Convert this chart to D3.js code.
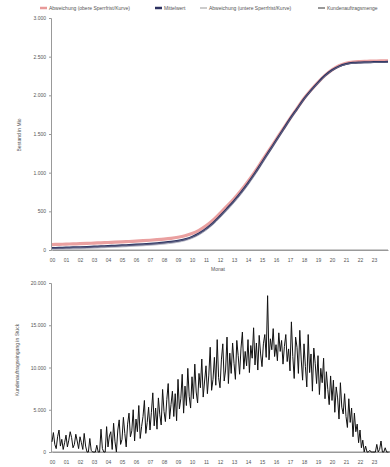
<!DOCTYPE html>
<html>
<head>
<meta charset="utf-8">
<script src="https://cdn.jsdelivr.net/npm/d3@7"></script>
<style>
  body { margin: 0; background: #fff; }
  svg { display: block; font-family: "Liberation Sans", Arial, sans-serif; }
  .axis path, .axis line { stroke: #999; }
  .axis text { fill: #555; font-size: 5px; }
</style>
</head>
<body>
<div id="chart"></div>
<script>
// x tick labels (years)
const tickLabels = ["00","01","02","03","04","05","06","07","08","09","10","11","12","13","14","15","16","17","18","19","20","21","22","23"];

// top chart: half-year steps 0..24
const steps = d3.range(0, 24.5, 0.5);
const mittelwert = [25,28,31,34,37,40,44,48,52,56,60,65,70,75,81,88,96,106,120,140,170,215,275,350,440,535,635,745,865,995,1135,1275,1415,1555,1695,1825,1955,2065,2165,2255,2325,2375,2405,2420,2425,2427,2430,2432,2433];
const obereKurve = [70,73,76,79,82,85,89,93,97,101,105,110,115,120,126,133,141,151,165,184,212,255,313,386,474,566,663,770,887,1014,1151,1288,1425,1562,1700,1829,1958,2068,2168,2258,2330,2382,2414,2431,2437,2440,2443,2445,2446];
const untereKurve = [5,8,11,14,17,20,24,28,32,36,40,45,50,55,61,68,76,86,100,120,150,194,253,327,416,510,609,718,838,968,1108,1250,1392,1534,1676,1808,1940,2052,2154,2246,2318,2369,2400,2415,2420,2422,2425,2427,2428];
const kundenKurve = [20,23,26,29,32,35,39,43,47,51,55,60,65,70,76,83,91,101,115,135,165,210,270,345,435,530,630,740,860,990,1130,1270,1410,1550,1690,1820,1950,2060,2160,2250,2320,2370,2400,2415,2420,2422,2425,2427,2428];

// bottom chart: 10 values per year
const tagesWerte = [
  1200,2300,900,400,1800,2600,700,1500,300,1100,
  2000,600,1400,2400,1700,500,900,2100,1300,400,
  1800,1100,300,2200,700,0,0,1600,200,0,
  0,0,800,0,0,2700,400,0,0,3000,
  600,1900,2400,300,3400,1200,0,2600,3800,900,
  1500,4100,2200,600,3300,4600,1800,2500,5000,1300,
  3900,2400,5500,1600,3000,4200,6100,2200,3500,5300,
  2600,4700,7000,3100,5200,2700,6400,4400,3200,7400,
  4800,3600,6200,8100,3900,5600,7200,4200,6900,3700,
  8600,5100,6300,9200,4600,7800,5500,9900,6600,5200,
  8900,6300,10400,7100,5800,9300,7600,11000,6500,8400,
  10200,6900,9100,12400,7300,8600,11200,7900,13300,8800,
  7600,10900,12800,8400,9700,13600,8100,11700,9300,12900,
  10500,8600,13200,11400,9200,12300,14200,9800,11900,10200,
  13300,9400,12600,11100,14700,10300,12900,9700,13800,11600,
  10100,12800,13900,11200,18500,10900,13400,12100,14600,11300,
  12700,10800,14100,11900,13200,10400,12500,13900,10700,12200,
  9600,15400,11300,8700,13600,12400,9300,14400,11000,8500,
  12800,10100,7700,13900,9400,11600,7200,12300,10500,8100,
  11400,6800,9900,8200,11100,6300,9500,7400,5600,9000,
  6100,8500,4700,7700,6400,3900,8200,5300,4500,6900,
  4200,2900,6300,3500,5200,1800,4600,2400,3300,1100,
  2600,500,1400,0,700,0,0,200,0,0,
  0,0,900,0,300,1300,0,0,500,0,
  0,0,0
];

const width = 390, height = 467;
const left = 51, right = 388;

const svg = d3.select("#chart").append("svg")
  .attr("width", width).attr("height", height);

const x = d3.scaleLinear().domain([0, 24]).range([left + 1, left + 1 + 24 * 14]);

// ---------- legend ----------
const legendItems = [
  { name: "Abweichung (obere Sperrfrist/Kurve)", color: "#e89a9a", w: 2.5, x: 40 },
  { name: "Mittelwert", color: "#2c3160", w: 2.5, x: 155 },
  { name: "Abweichung (untere Sperrfrist/Kurve)", color: "#999", w: 1, x: 200 },
  { name: "Kundenauftragsmenge", color: "#333", w: 1, x: 318 }
];
const legend = svg.append("g").attr("transform", "translate(0,8)");
legendItems.forEach(d => {
  legend.append("line").attr("x1", d.x).attr("x2", d.x + 7).attr("y1", 0).attr("y2", 0)
    .attr("stroke", d.color).attr("stroke-width", d.w);
  legend.append("text").attr("x", d.x + 9).attr("y", 1.8)
    .attr("font-size", 5).attr("fill", "#555").text(d.name);
});

// ---------- top chart ----------
const y1 = d3.scaleLinear().domain([0, 3000]).range([250, 18]);

svg.append("g").attr("class", "axis")
  .attr("transform", `translate(${left},0)`)
  .call(d3.axisLeft(y1).tickValues(d3.range(0, 3001, 500)).tickSize(2)
    .tickFormat(d => d3.format(",")(d).replace(",", ".")));

svg.append("g").attr("class", "axis")
  .attr("transform", "translate(0,250)")
  .call(d3.axisBottom(x).tickValues(d3.range(0, 24)).tickSize(0).tickPadding(8)
    .tickFormat(i => tickLabels[i]));
svg.append("line").attr("x1", left).attr("x2", right).attr("y1", 250).attr("y2", 250)
  .attr("stroke", "#999");

svg.append("text").attr("x", 218).attr("y", 271).attr("text-anchor", "middle")
  .attr("font-size", 5).attr("fill", "#555").text("Monat");
svg.append("text").attr("transform", "translate(21,135) rotate(-90)")
  .attr("text-anchor", "middle").attr("font-size", 5).attr("fill", "#555")
  .text("Bestand in Mio");

const line1 = d3.line().x((d, i) => x(steps[i])).y(d => y1(d)).curve(d3.curveMonotoneX);

[
  { data: obereKurve, color: "#eaa0a0", w: 3.2 },
  { data: untereKurve, color: "#b7b7c4", w: 1 },
  { data: mittelwert, color: "#2c3160", w: 2 },
  { data: kundenKurve, color: "#6b6f8c", w: 0.8 }
].forEach(s => {
  svg.append("path").datum(s.data).attr("d", line1)
    .attr("fill", "none").attr("stroke", s.color).attr("stroke-width", s.w);
});

// ---------- bottom chart ----------
const y2 = d3.scaleLinear().domain([0, 20000]).range([452, 283]);

svg.append("g").attr("class", "axis")
  .attr("transform", `translate(${left},0)`)
  .call(d3.axisLeft(y2).tickValues(d3.range(0, 20001, 5000)).tickSize(2)
    .tickFormat(d => d3.format(",")(d).replace(",", ".")));

svg.append("g").attr("class", "axis")
  .attr("transform", "translate(0,452)")
  .call(d3.axisBottom(x).tickValues(d3.range(0, 24)).tickSize(0).tickPadding(8)
    .tickFormat(i => tickLabels[i]));
svg.append("line").attr("x1", left).attr("x2", right).attr("y1", 452).attr("y2", 452)
  .attr("stroke", "#999");

svg.append("text").attr("transform", "translate(19,360) rotate(-90)")
  .attr("text-anchor", "middle").attr("font-size", 5).attr("fill", "#555")
  .text("Kundenauftragseingang in Stück");

const line2 = d3.line().x((d, i) => x(i / 10)).y(d => y2(d));
svg.append("path").datum(tagesWerte).attr("d", line2)
  .attr("fill", "none").attr("stroke", "#111").attr("stroke-width", 1);
</script>
</body>
</html>
